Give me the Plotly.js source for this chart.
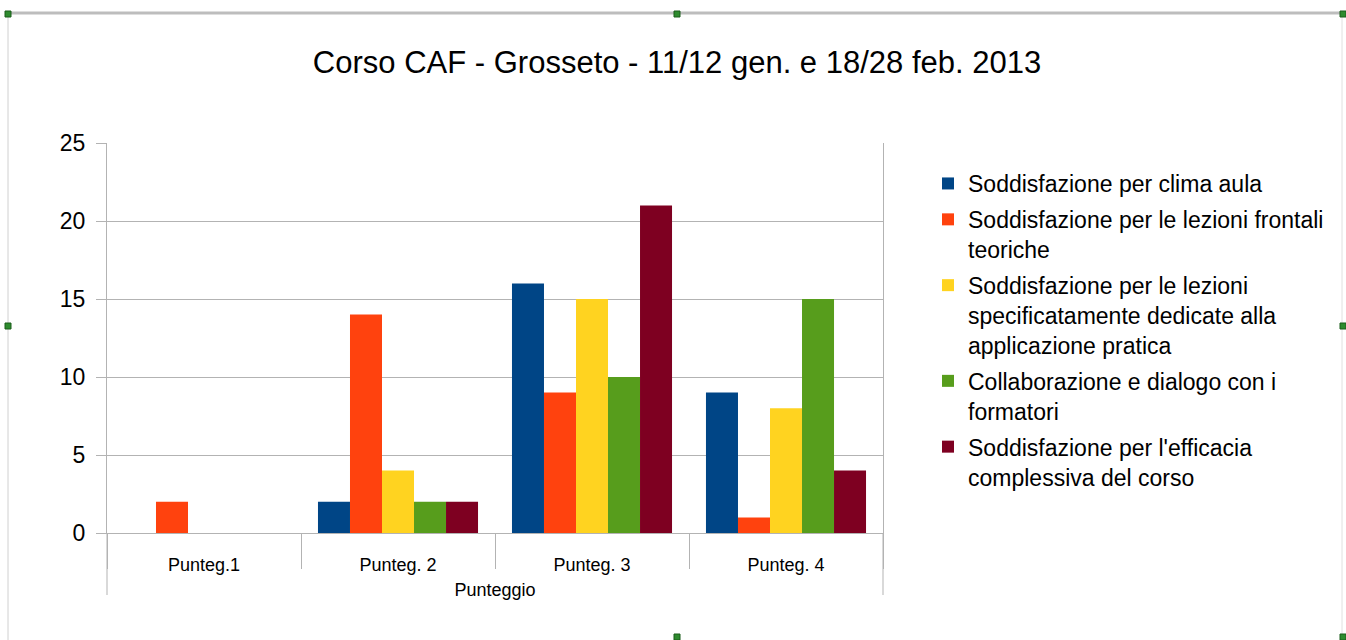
<!DOCTYPE html>
<html><head><meta charset="utf-8">
<script src="https://cdn.plot.ly/plotly-3.0.1.min.js"></script>
<style>html,body{margin:0;padding:0;background:#fff}#c{width:1346px;height:640px}</style>
</head><body><div id="c"></div>
<script>
const categories = ["Punteg.1", "Punteg. 2", "Punteg. 3", "Punteg. 4"];
const seriesNames = [
  "Soddisfazione per clima aula",
  "Soddisfazione per le lezioni frontali<br>teoriche",
  "Soddisfazione per le lezioni<br>specificatamente dedicate alla<br>applicazione pratica",
  "Collaborazione e dialogo con i<br>formatori",
  "Soddisfazione per l'efficacia<br>complessiva del corso"
];
const climaAula = [0, 2, 16, 9];
const lezioniFrontali = [2, 14, 9, 1];
const lezioniPratiche = [0, 4, 15, 8];
const collaborazione = [0, 2, 10, 15];
const efficacia = [0, 2, 21, 4];
const colors = ["#004586", "#ff420e", "#ffd320", "#579d1c", "#7e0021"];
const values = [climaAula, lezioniFrontali, lezioniPratiche, collaborazione, efficacia];

const data = values.map((v, i) => ({
  type: "bar", x: categories, y: v, name: seriesNames[i], legendgroup: "g" + i,
  marker: {color: colors[i], line: {width: 0}}, hoverinfo: "skip"
}));

const L = 107, R = 883, T = 143, B = 533;
const px = p => (p - L) / (R - L);
const py = p => (B - p) / (B - T);

const shapes = [
  {type: "line", xref: "paper", yref: "paper", x0: 0, x1: 0, y0: 0, y1: py(595), line: {color: "#b3b3b3", width: 1}},
  {type: "line", xref: "paper", yref: "paper", x0: 1, x1: 1, y0: 0, y1: py(595), line: {color: "#b3b3b3", width: 1}},
  {type: "line", xref: "paper", yref: "paper", x0: px(8), x1: px(1343), y0: py(13), y1: py(13), line: {color: "#bdbdbd", width: 3}},
  {type: "line", xref: "paper", yref: "paper", x0: px(8), x1: px(8), y0: py(13), y1: py(640), line: {color: "#d0d0d0", width: 1}},
  {type: "line", xref: "paper", yref: "paper", x0: px(1342), x1: px(1342), y0: py(13), y1: py(640), line: {color: "#e0e0e0", width: 1}}
];
[[8,14],[677,14],[1343,14],[8,326],[1343,326],[677,637],[1343,637]].forEach(([a,b]) => {
  shapes.push({type: "rect", xref: "paper", yref: "paper", x0: px(a-3), x1: px(a+3), y0: py(b-3), y1: py(b+3),
    fillcolor: "#2e8b2e", line: {color: "#1a5c1a", width: 1}});
});

const layout = {
  width: 1346, height: 640,
  margin: {l: L, r: 1346 - R, t: T, b: 640 - B, pad: 0},
  paper_bgcolor: "#fff", plot_bgcolor: "#fff",
  font: {family: "Liberation Sans, Arial, sans-serif", color: "#000"},
  title: {text: "Corso CAF - Grosseto - 11/12 gen. e 18/28 feb. 2013", font: {size: 31, color: "#000"},
    x: 0.503, xanchor: "center", y: 1 - 62/640, yanchor: "middle"},
  barmode: "group", bargap: 0.175, bargroupgap: 0,
  showlegend: true,
  legend: {x: px(928), xanchor: "left", y: py(162), yanchor: "top",
    font: {size: 23, color: "#000"}, valign: "top", tracegroupgap: 3,
    itemwidth: 30, bgcolor: "rgba(0,0,0,0)"},
  xaxis: {
    type: "category", tickson: "boundaries", ticks: "outside", ticklen: 35, tickcolor: "#b3b3b3", tickwidth: 1,
    showline: true, linecolor: "#b3b3b3", linewidth: 1, showgrid: false, zeroline: false,
    tickfont: {size: 18, color: "#000"}, ticklabelstandoff: 15,
    title: {text: "Punteggio", font: {size: 18, color: "#000"}, standoff: 9},
    fixedrange: true
  },
  yaxis: {
    range: [0, 25], dtick: 5, tick0: 0, ticks: "outside", ticklen: 10, tickcolor: "#b3b3b3",
    showline: true, linecolor: "#b3b3b3", mirror: true, showgrid: true, gridcolor: "#b3b3b3", gridwidth: 1,
    zeroline: false, tickfont: {size: 23, color: "#000"},
    ticklabelstandoff: 6, fixedrange: true
  },
  shapes: shapes
};

Plotly.newPlot("c", data, layout, {displayModeBar: false, staticPlot: true});
</script></body></html>
